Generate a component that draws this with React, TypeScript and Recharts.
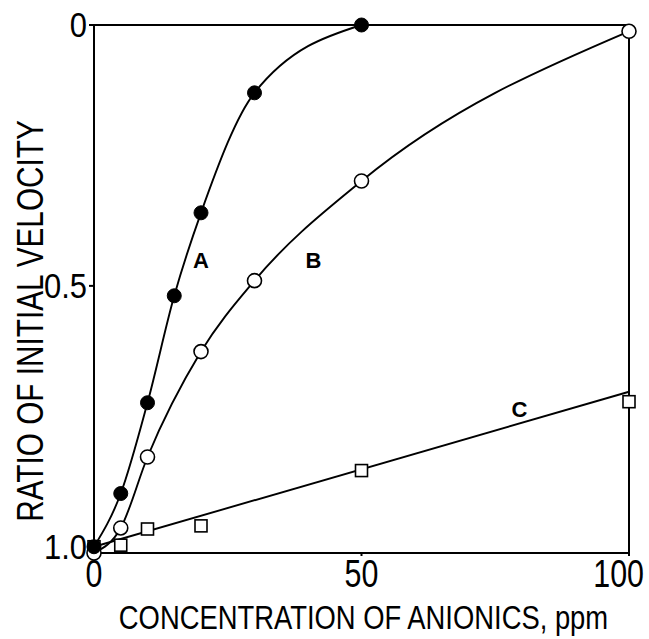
import { ComposedChart, Line, XAxis, YAxis, ReferenceDot, ReferenceLine, Label } from "recharts";

// concentration (ppm) vs ratio of initial velocity
const curveA = [
  { conc: 0, ratio: 1.0 },
  { conc: 5, ratio: 0.898 },
  { conc: 10, ratio: 0.724 },
  { conc: 15, ratio: 0.519 },
  { conc: 20, ratio: 0.36 },
  { conc: 30, ratio: 0.13 },
  { conc: 50, ratio: 0.0 },
];
const curveB = [
  { conc: 0, ratio: 1.012 },
  { conc: 5, ratio: 0.964 },
  { conc: 10, ratio: 0.828 },
  { conc: 20, ratio: 0.626 },
  { conc: 30, ratio: 0.49 },
  { conc: 50, ratio: 0.299 },
  { conc: 100, ratio: 0.012 },
];
const pointsC = [
  { conc: 0, ratio: 1.0 },
  { conc: 5, ratio: 0.997 },
  { conc: 10, ratio: 0.966 },
  { conc: 20, ratio: 0.96 },
  { conc: 50, ratio: 0.854 },
  { conc: 100, ratio: 0.722 },
];
const fitC = [
  { conc: 0, ratio: 1.0 },
  { conc: 100, ratio: 0.703 },
];
const curveLabels = [
  { name: "A", conc: 20, ratio: 0.45 },
  { name: "B", conc: 41, ratio: 0.45 },
  { name: "C", conc: 79.5, ratio: 0.737 },
];
const xTicks = [0, 50, 100];
const yTicks = [0, 0.5, 1];

const FONT = "'Liberation Sans', Arial, sans-serif";

const filledDot = (p: any) => <circle key={`a${p.index}`} cx={p.cx} cy={p.cy} r={7} fill="#000" stroke="#000" />;
const openDot = (p: any) => <circle key={`b${p.index}`} cx={p.cx} cy={p.cy} r={7} fill="#fff" stroke="#000" strokeWidth={1.6} />;
const squareDot = (p: any) => (
  <rect key={`c${p.index}`} x={p.cx - 6} y={p.cy - 6} width={12} height={12} fill="#fff" stroke="#000" strokeWidth={1.6} />
);

const XTick = (p: any) => {
  const last = p.payload.value === 100;
  const x = last ? p.x + 15 : p.x;
  return (
    <text transform={`translate(${x},${p.y + 31}) scale(0.8,1)`} textAnchor={last ? "end" : "middle"} fontSize={38} fontFamily={FONT} fill="#000">
      {p.payload.value}
    </text>
  );
};

const YTick = (p: any) => {
  const v = p.payload.value;
  return (
    <text transform={`translate(${p.x},${p.y + 12}) scale(0.86,1)`} textAnchor="end" fontSize={36} fontFamily={FONT} fill="#000">
      {v === 0 ? "0" : v.toFixed(1)}
    </text>
  );
};

// titles are a condensed face in the original, so squeeze them horizontally
const XTitle = ({ viewBox }: any) => (
  <text
    transform={`translate(${viewBox.x + viewBox.width / 2 + 2},${viewBox.y + 76}) scale(0.83,1)`}
    textAnchor="middle"
    fontSize={33}
    fontFamily={FONT}
    fill="#000"
  >
    CONCENTRATION OF ANIONICS, ppm
  </text>
);

const YTitle = ({ viewBox }: any) => {
  const y = viewBox.y + viewBox.height / 2 + 32;
  return (
    <text
      transform={`translate(43,${y}) rotate(-90) scale(0.804,1)`}
      textAnchor="middle"
      fontSize={37}
      fontFamily={FONT}
      fill="#000"
    >
      RATIO OF INITIAL VELOCITY
    </text>
  );
};

export default function App() {
  return (
    <div style={{ position: "absolute", left: 0, top: 0, background: "#fff" }}>
      <ComposedChart width={649} height={639} margin={{ top: 25, right: 20, left: 0, bottom: 0 }}>
        <XAxis
          type="number"
          dataKey="conc"
          domain={[0, 100]}
          ticks={xTicks}
          height={86}
          stroke="#000"
          strokeWidth={2}
          tickSize={3}
          tickMargin={0}
          tick={<XTick />}
        >
          <Label content={<XTitle />} />
        </XAxis>
        <YAxis
          type="number"
          dataKey="ratio"
          reversed
          domain={[0, 1.012]}
          ticks={yTicks}
          width={94}
          stroke="#000"
          strokeWidth={2}
          tickSize={5}
          tickMargin={2}
          tick={<YTick />}
        >
          <Label content={<YTitle />} />
        </YAxis>
        <ReferenceLine y={0} stroke="#000" strokeWidth={2} ifOverflow="visible" />
        <ReferenceLine x={100} stroke="#000" strokeWidth={2} ifOverflow="visible" />

        <Line data={fitC} dataKey="ratio" type="linear" stroke="#000" strokeWidth={1.9} dot={false} isAnimationActive={false} />
        <Line data={pointsC} dataKey="ratio" type="linear" stroke="none" dot={squareDot} activeDot={false} isAnimationActive={false} />
        <Line data={curveB} dataKey="ratio" type="monotone" stroke="#000" strokeWidth={1.9} dot={openDot} activeDot={false} isAnimationActive={false} />
        <Line data={curveA} dataKey="ratio" type="monotone" stroke="#000" strokeWidth={1.9} dot={filledDot} activeDot={false} isAnimationActive={false} />

        {curveLabels.map((l) => (
          <ReferenceDot
            key={l.name}
            x={l.conc}
            y={l.ratio}
            r={0}
            stroke="none"
            label={{ value: l.name, position: "center", style: { fill: "#000", fontSize: 22, fontWeight: 700, fontFamily: FONT } }}
          />
        ))}
      </ComposedChart>
    </div>
  );
}
